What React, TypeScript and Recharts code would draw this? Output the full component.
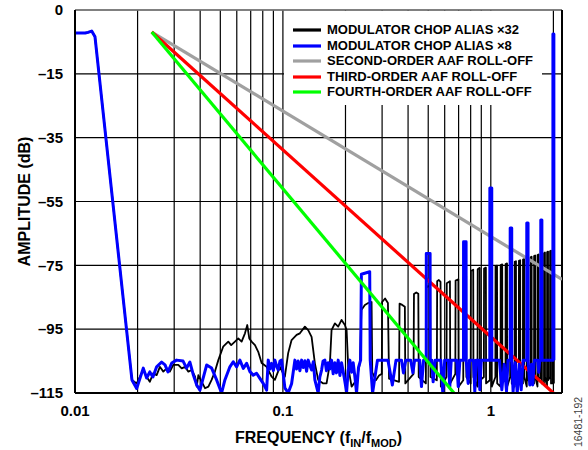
import React from 'react';
import { LineChart, Line, XAxis, YAxis, CartesianGrid, ReferenceLine, Legend } from 'recharts';

const FONT = '"Liberation Sans", Arial, Helvetica, sans-serif';

// x-axis ticks (log decades with minor grid) and labels
const X_TICKS = [0.01, 0.02, 0.03, 0.04, 0.05, 0.06, 0.07, 0.08, 0.09, 0.1, 0.2, 0.3, 0.4, 0.5, 0.6, 0.7, 0.8, 0.9, 1, 2];
const X_LABELED = [0.01, 0.1, 1];
const X_DOMAIN = [0.01, 2.2];
// y-axis ticks; the top gridline is labelled "0" in the original figure
const Y_TICKS = [-115, -95, -75, -55, -35, -15, 5];
const Y_TICK_LABELS = ['–115', '–95', '–75', '–55', '–35', '–15', '0'];
const Y_DOMAIN = [-115, 5];

// [f_IN/f_MOD, dB]
const aliasX32: [number, number][] = [
  [0.01, -2.2], [0.0112, -2.2], [0.01155, -2.0], [0.01203, -1.6], [0.01248, -3.4], [0.01879, -110.9],
  [0.0198, -112.0], [0.02054, -109.9], [0.0213, -107.8], [0.0221, -109.9], [0.0229, -111.5], [0.0238, -108.8],
  [0.0247, -109.4], [0.0256, -106.8], [0.0266, -108.3], [0.0276, -107.3], [0.0286, -108.3], [0.0297, -106.2],
  [0.0314, -106.2], [0.0326, -107.3], [0.0338, -106.8], [0.0351, -108.3], [0.0364, -107.8], [0.0378, -109.9],
  [0.0385, -113.0], [0.0392, -109.4], [0.0407, -111.5], [0.0422, -113.5], [0.0438, -113.0], [0.0454, -110.9],
  [0.0471, -108.3], [0.0489, -104.7], [0.0516, -100.5], [0.0546, -98.9], [0.0564, -100.0], [0.0588, -98.9],
  [0.061, -97.9], [0.0633, -98.9], [0.0657, -96.3], [0.0674, -93.7], [0.0689, -97.9], [0.0707, -98.9],
  [0.0734, -100.0], [0.0761, -102.1], [0.079, -105.6], [0.0835, -106.8], [0.0883, -109.9], [0.0915, -110.9],
  [0.0967, -106.8], [0.1022, -109.9], [0.106, -102.5], [0.1101, -98.4], [0.1164, -96.8], [0.1207, -96.3],
  [0.1276, -94.2], [0.1323, -95.3], [0.1374, -97.4], [0.1425, -105.7], [0.1478, -110.9], [0.1563, -112.0],
  [0.1622, -112.0], [0.1683, -105.7], [0.1714, -95.3], [0.1778, -93.2], [0.1845, -94.2], [0.1915, -92.1],
  [0.1987, -93.7], [0.2025, -95.3], [0.2061, -106.8], [0.214, -113.0], [0.2261, -110.9], [0.2346, -105.6],
  [0.2385, -89.0], [0.2479, -87.4], [0.2572, -86.8], [0.267, -86.5], [0.269, -108.5], [0.28, -111.0], [0.29, -109.5],
  [0.299, -109.0], [0.3, -86.5], [0.31, -85.4], [0.32, -86.8], [0.324, -110.5],
  [0.362, -111.5], [0.364, -87.0], [0.375, -87.4], [0.386, -88.0], [0.388, -112.0],
  [0.425, -109.0], [0.427, -84.0], [0.438, -83.5], [0.448, -83.9], [0.45, -110.0],
  [0.487, -112.0], [0.489, -82.0], [0.5, -81.5], [0.511, -81.8], [0.513, -110.0],
  [0.55, -111.0], [0.552, -80.0], [0.5625, -79.6], [0.573, -80.2], [0.575, -113.0],
  [0.612, -110.0], [0.614, -80.6], [0.636, -80.0], [0.638, -112.0],
  [0.675, -109.0], [0.677, -79.8], [0.698, -79.4], [0.7, -113.0],
  [0.737, -111.0], [0.739, -78.8], [0.761, -78.3], [0.763, -110.0],
  [0.8, -112.0], [0.802, -76.8], [0.823, -76.4], [0.825, -110.0],
  [0.863, -113.0], [0.865, -76.2], [0.885, -75.8], [0.887, -111.0],
  [0.926, -110.0], [0.928, -76.0], [0.947, -75.7], [0.949, -112.0],
  [0.989, -111.0], [0.9905, -75.6], [1.0095, -75.4], [1.011, -113.0],
  [1.052, -110.0], [1.0535, -75.3], [1.0715, -75.1], [1.073, -112.0],
  [1.114, -113.0], [1.1155, -74.9], [1.1345, -74.7], [1.136, -110.0],
  [1.177, -111.0], [1.1785, -74.6], [1.1965, -74.4], [1.198, -113.0],
  [1.239, -110.0], [1.2405, -74.2], [1.2595, -74.0], [1.261, -112.0],
  [1.302, -113.0], [1.3035, -73.9], [1.3215, -73.7], [1.323, -111.0],
  [1.364, -110.0], [1.3655, -73.6], [1.3845, -73.4], [1.386, -112.0],
  [1.427, -112.0], [1.4285, -73.2], [1.4465, -73.0], [1.448, -110.0],
  [1.489, -113.0], [1.4905, -72.8], [1.5095, -72.6], [1.511, -111.0],
  [1.552, -110.0], [1.5535, -72.5], [1.5715, -72.3], [1.573, -112.0],
  [1.614, -112.0], [1.6155, -72.1], [1.6345, -71.9], [1.636, -110.0],
  [1.677, -113.0], [1.6785, -71.8], [1.6965, -71.6], [1.698, -111.0],
  [1.739, -110.0], [1.7405, -71.5], [1.7595, -71.3], [1.761, -112.0],
  [1.802, -112.0], [1.8035, -71.2], [1.8215, -71.0], [1.823, -110.0],
  [1.864, -113.0], [1.8655, -70.9], [1.8845, -70.7], [1.886, -111.0],
  [1.927, -110.0], [1.9285, -70.6], [1.9465, -70.4], [1.948, -112.0],
  [1.989, -112.0], [1.9905, -70.2], [2.0095, -70.0], [2.011, -112.0],
];

const aliasX8: [number, number][] = [
  [0.01, -2.2], [0.0112, -2.2], [0.01155, -2.0], [0.01203, -1.6], [0.01248, -3.4], [0.01879, -110.9],
  [0.0198, -113.6], [0.0213, -107.2], [0.0221, -110.3], [0.0229, -108.4], [0.0237, -110.0], [0.0247, -106.8],
  [0.0261, -105.3], [0.0271, -106.2], [0.028, -108.4], [0.0292, -105.6], [0.0308, -104.7], [0.0331, -105.0],
  [0.0344, -107.2], [0.0357, -105.3], [0.0371, -109.4], [0.0385, -112.5], [0.0399, -114.1], [0.043, -106.2],
  [0.0454, -107.2], [0.048, -110.9], [0.0507, -115.0], [0.0526, -110.9], [0.0556, -106.8], [0.0577, -105.2],
  [0.0599, -106.8], [0.0621, -104.7], [0.0645, -107.3], [0.0669, -105.7], [0.0694, -108.3], [0.072, -109.4],
  [0.0747, -108.8], [0.0775, -110.4], [0.0804, -112.0], [0.0835, -114.1], [0.085, -104.7], [0.0866, -107.5],
  [0.0883, -105.7], [0.09, -108.0], [0.0915, -104.7], [0.0932, -106.5], [0.0949, -107.8], [0.0968, -105.0],
  [0.0986, -104.7], [0.1022, -113.4], [0.106, -115.0], [0.1101, -112.1],
  [0.1142, -104.7], [0.1163, -107.5], [0.1184, -105.0], [0.1207, -108.0], [0.123, -104.7], [0.1253, -107.0],
  [0.1276, -104.9], [0.13, -108.2], [0.1323, -104.7], [0.135, -106.5], [0.1374, -107.8], [0.14, -105.2],
  [0.1425, -110.9], [0.1478, -115.0], [0.1505, -110.0], [0.1535, -107.8], [0.156, -105.0], [0.1592, -104.7],
  [0.162, -108.0], [0.1651, -105.5], [0.168, -107.5], [0.1714, -104.7], [0.1745, -109.0], [0.1778, -105.5],
  [0.181, -108.7], [0.1845, -104.7], [0.188, -109.5], [0.1915, -105.5], [0.197, -110.0], [0.2025, -114.7],
  [0.206, -108.0], [0.21, -104.7], [0.214, -108.5], [0.2178, -105.5], [0.222, -110.0], [0.2261, -115.0],
  [0.231, -107.0], [0.2365, -104.7], [0.2385, -77.8], [0.2615, -77.0], [0.263, -104.7], [0.27, -115.0],
  [0.285, -104.7], [0.32, -104.7], [0.336, -112.5], [0.35, -104.7], [0.372, -104.7], [0.38, -108.7],
  [0.39, -104.7], [0.412, -104.7], [0.422, -108.7], [0.43, -104.7], [0.455, -104.7], [0.464, -113.0],
  [0.475, -104.7], [0.489, -104.7], [0.4895, -71.3], [0.5105, -71.3], [0.511, -104.7], [0.52, -104.7],
  [0.528, -111.5], [0.54, -104.7], [0.575, -104.7], [0.5875, -115.0], [0.6, -104.7], [0.625, -104.7],
  [0.635, -113.0], [0.645, -104.7], [0.685, -104.7], [0.697, -113.0], [0.71, -104.7], [0.739, -104.7],
  [0.7395, -67.6], [0.7605, -67.6], [0.761, -104.7], [0.778, -112.0], [0.79, -104.7], [0.825, -104.7],
  [0.8375, -114.6], [0.85, -104.7], [0.875, -104.7], [0.885, -114.0], [0.9, -104.7], [0.989, -104.7],
  [0.9895, -50.8], [1.0105, -50.8], [1.011, -104.7], [1.1, -104.7], [1.13, -114.0], [1.16, -106.0],
  [1.19, -114.5], [1.21, -104.7], [1.239, -104.7], [1.2395, -63.3], [1.2605, -63.3], [1.261, -104.7],
  [1.28, -114.6], [1.31, -105.5], [1.34, -115.0], [1.37, -106.0], [1.4, -114.0], [1.43, -104.7],
  [1.489, -104.7], [1.4895, -61.7], [1.5105, -61.7], [1.511, -104.7], [1.54, -112.5], [1.57, -106.0],
  [1.59, -112.5], [1.62, -104.7], [1.68, -104.7], [1.7, -108.5], [1.72, -104.7], [1.739, -104.7],
  [1.7395, -60.8], [1.7605, -60.8], [1.761, -104.7], [1.989, -104.7], [1.9895, -2.5], [2.0105, -2.5],
  [2.011, -104.7],
];

const secondOrder: [number, number][] = [[0.0234, -1.9], [2.2, -79.4]];
const thirdOrder: [number, number][] = [[0.0234, -1.9], [2.0, -115]];
const fourthOrder: [number, number][] = [[0.0234, -1.9], [0.665, -115]];

const toRows = (pairs: [number, number][]) => pairs.map(([f, v]) => ({ f, v }));

const SERIES = [
  { key: 'x32', name: 'MODULATOR CHOP ALIAS ×32', color: '#000000', width: 1.8, data: toRows(aliasX32) },
  { key: 'x8', name: 'MODULATOR CHOP ALIAS ×8', color: '#0000ff', width: 3, data: toRows(aliasX8) },
  { key: 'o2', name: 'SECOND-ORDER AAF ROLL-OFF', color: '#a0a0a0', width: 3.2, data: toRows(secondOrder) },
  { key: 'o3', name: 'THIRD-ORDER AAF ROLL-OFF', color: '#ff0000', width: 3.2, data: toRows(thirdOrder) },
  { key: 'o4', name: 'FOURTH-ORDER AAF ROLL-OFF', color: '#00ff00', width: 3.2, data: toRows(fourthOrder) },
];
const DRAW_ORDER = ['x32', 'o2', 'o3', 'x8', 'o4'];

const renderLegend = () => (
  <div style={{ width: 258, height: 94, background: '#fff', position: 'relative', fontFamily: FONT }}>
    {SERIES.map((s, i) => (
      <div key={s.key} style={{ position: 'absolute', left: 0, top: 11 + i * 15.6, height: 16, display: 'flex', alignItems: 'center' }}>
        <svg width={43} height={16} style={{ display: 'block' }}>
          <line x1={9} x2={37} y1={8} y2={8} stroke={s.color} strokeWidth={3.2} />
        </svg>
        <span style={{ fontSize: 13, fontWeight: 700, color: '#000', lineHeight: '16px', whiteSpace: 'nowrap' }}>{s.name}</span>
      </div>
    ))}
  </div>
);

const XTitle = (props: any) => {
  const vb = props.viewBox || { x: 75, y: 393, width: 487, height: 57 };
  return (
    <text x={vb.x + vb.width / 2} y={vb.y + 50} textAnchor="middle" fontFamily={FONT} fontWeight={700} fontSize={16} fill="#000">
      <tspan>FREQUENCY (f</tspan>
      <tspan fontSize={11} dy={4}>IN</tspan>
      <tspan dy={-4}>/f</tspan>
      <tspan fontSize={11} dy={4}>MOD</tspan>
      <tspan dy={-4}>)</tspan>
    </text>
  );
};

const YTitle = (props: any) => {
  const vb = props.viewBox || { x: 0, y: 10, width: 75, height: 383 };
  const cx = vb.x + 24;
  const cy = vb.y + vb.height / 2;
  return (
    <text x={cx} y={cy} transform={`rotate(-90 ${cx} ${cy})`} textAnchor="middle" dominantBaseline="central"
      fontFamily={FONT} fontWeight={700} fontSize={16} fill="#000">
      AMPLITUDE (dB)
    </text>
  );
};

export default function App() {
  return (
    <div style={{ position: 'absolute', left: 0, top: 0, width: 588, height: 450, background: '#fff' }}>
      <LineChart width={588} height={450} margin={{ top: 10, right: 26, bottom: 0, left: 0 }}>
        <CartesianGrid stroke="#000" strokeWidth={1.2} />
        <XAxis
          type="number"
          dataKey="f"
          scale="log"
          domain={X_DOMAIN}
          allowDataOverflow
          ticks={X_TICKS}
          interval={0}
          height={57}
          tickLine={false}
          tickMargin={6}
          axisLine={{ stroke: '#000', strokeWidth: 2 }}
          tick={{ fontSize: 15, fontWeight: 700, fill: '#000', fontFamily: FONT }}
          tickFormatter={(v: number) => (X_LABELED.includes(v) ? String(v) : '')}
          label={<XTitle />}
        />
        <YAxis
          type="number"
          domain={Y_DOMAIN}
          allowDataOverflow
          ticks={Y_TICKS}
          interval={0}
          width={75}
          tickLine={false}
          tickMargin={6}
          axisLine={{ stroke: '#000', strokeWidth: 2 }}
          tick={{ fontSize: 15, fontWeight: 700, fill: '#000', fontFamily: FONT }}
          tickFormatter={(v: number) => Y_TICK_LABELS[Y_TICKS.indexOf(v)] ?? ''}
          label={<YTitle />}
        />
        <ReferenceLine y={5} stroke="#808080" strokeWidth={1.5} />
        <ReferenceLine x={2.2} stroke="#000" strokeWidth={2} />
        {DRAW_ORDER.map((k) => {
          const s = SERIES.find((q) => q.key === k)!;
          return (
            <Line
              key={s.key}
              data={s.data}
              dataKey="v"
              name={s.name}
              type="linear"
              stroke={s.color}
              strokeWidth={s.width}
              strokeLinejoin="round"
              dot={false}
              activeDot={false}
              isAnimationActive={false}
            />
          );
        })}
        <Legend
          layout="horizontal"
          verticalAlign="middle"
          align="center"
          content={renderLegend}
          wrapperStyle={{ left: 284, top: 11, width: 258, height: 94, background: '#fff' }}
        />
      </LineChart>
      <svg width={588} height={450} style={{ position: 'absolute', left: 0, top: 0, pointerEvents: 'none' }}>
        <text x={578} y={422} transform="rotate(-90 578 422)" textAnchor="middle" dominantBaseline="central"
          fontFamily={FONT} fontSize={10.5} fill="#404040">
          16481-192
        </text>
      </svg>
    </div>
  );
}
